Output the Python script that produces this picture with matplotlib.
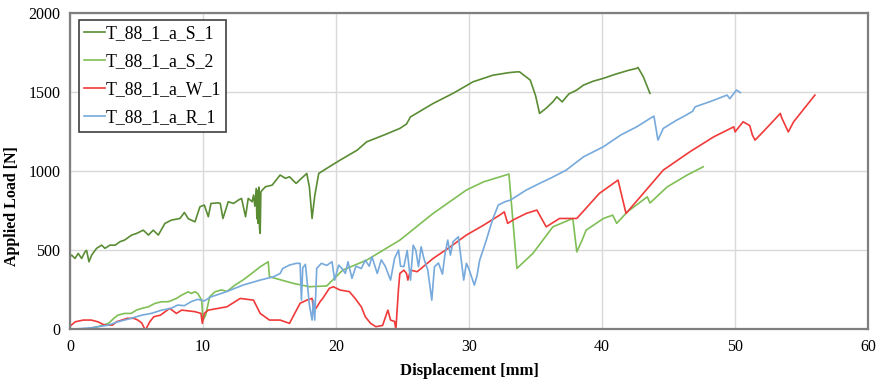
import matplotlib.pyplot as plt

# --- data (displacement mm, load N) ---
s1_x = [0, 0.13, 0.38, 0.62, 0.88, 1.13, 1.25, 1.43, 1.63, 2.0, 2.38, 2.63, 3.0, 3.4, 3.76, 4.1,
        4.64, 5.0, 5.51, 5.9, 6.26, 6.64, 7.14, 7.64, 8.27, 8.6, 8.9, 9.4, 9.77, 10.1, 10.4, 10.6,
        11.15, 11.3, 11.5, 11.9, 12.3, 12.65, 12.9, 13.2, 13.4, 13.7, 13.8, 13.9, 14.0, 14.05,
        14.1, 14.15, 14.2, 14.25, 14.3, 14.35, 14.46, 14.7, 15.2, 15.8, 16.2, 16.5, 17.0, 17.8,
        18.0, 18.2, 18.4, 18.7, 19.3, 20.3, 21.6, 22.3, 23.6, 24.8, 25.3, 25.6, 27.3, 28.8, 30.3,
        31.8, 33.0, 33.6, 33.8, 34.6, 35.0, 35.3, 35.8, 36.3, 36.6, 37.0, 37.5, 38.1, 38.6, 39.3,
        40.1, 41.0, 42.0, 42.6, 42.7, 43.1, 43.6]
s1_y = [460, 470, 449, 481, 449, 491, 500, 428, 470, 513, 533, 513, 533, 533, 555, 565,
        597, 607, 628, 597, 628, 597, 671, 692, 702, 740, 700, 681, 776, 787, 713, 797,
        801, 797, 702, 808, 797, 818, 829, 713, 829, 808, 850, 780, 892, 700,
        880, 671, 900, 640, 608, 870, 882, 903, 913, 977, 956, 966, 924, 987,
        900, 702, 845, 987, 1019, 1071, 1135, 1187, 1230, 1272, 1300, 1345, 1430, 1494, 1567,
        1609, 1625, 1630, 1630, 1578, 1480, 1367, 1400, 1440, 1472, 1440, 1490, 1515, 1546, 1570,
        1589, 1615, 1640, 1652, 1658, 1599, 1494]

s2_x = [0, 1.3, 2.1, 2.9, 3.3, 3.6, 4.1, 4.6, 5.0, 5.4, 5.9, 6.4, 6.9, 7.4, 8.0, 8.4, 8.9, 9.1,
        9.4, 9.6, 9.9, 10.0, 10.2, 10.5, 10.9, 11.4, 11.8, 12.4, 13.0, 13.6, 14.3, 14.9, 15.0,
        16.8, 18.0, 19.3, 20.0, 20.5, 22.3, 24.8, 27.3, 29.8, 31.1, 33.0, 33.6, 34.8, 36.3, 37.8,
        38.1, 38.5, 38.8, 40.1, 40.8, 41.1, 41.9, 43.1, 43.4, 43.6, 44.9, 46.4, 47.6]
s2_y = [0, 3, 17, 38, 70, 90, 101, 101, 122, 133, 143, 165, 175, 175, 196, 217, 238, 228,
        238, 228, 185, 59, 90, 206, 238, 250, 240, 280, 312, 350, 396, 428, 333,
        291, 270, 275, 333, 375, 438, 565, 734, 882, 934, 983, 386, 481, 649, 702,
        491, 565, 628, 702, 723, 671, 744, 820, 839, 800, 902, 977, 1029]

w1_x = [0, 0.1, 0.4, 1.0, 1.6, 2.1, 2.6, 3.2, 3.5, 4.3, 4.8, 5.1, 5.4, 5.6, 5.7, 6.0, 6.3, 6.8,
        7.5, 8.0, 8.4, 9.4, 9.85, 9.95, 10.1, 10.4, 11.15, 11.8, 12.8, 13.8, 14.3, 15.0, 15.8,
        16.5, 17.3, 17.8, 18.2, 18.3, 18.5, 18.8, 19.0, 19.5, 19.8, 20.3, 21.0, 21.4, 21.9,
        22.2, 22.6, 23.0, 23.5, 23.9, 24.1, 24.4, 24.5, 24.7, 24.8, 25.1, 25.3, 25.4, 25.6,
        26.1, 27.3, 28.6, 29.8, 31.1, 32.3, 32.65, 32.9, 33.3, 34.3, 35.1, 35.8, 36.8, 38.1,
        39.8, 41.2, 41.8, 43.1, 44.6, 46.6, 48.4, 49.9, 50.0, 50.6, 51.1, 51.3, 51.5, 52.1,
        53.4, 53.5, 54.0, 54.4, 56.0]
w1_y = [20, 27, 48, 59, 59, 48, 27, 27, 48, 70, 70, 59, 40, 6, 0, 48, 80, 90,
        133, 101, 122, 112, 101, 38, 101, 122, 133, 143, 196, 185, 101, 59, 59,
        38, 165, 185, 196, 133, 133, 175, 196, 260, 270, 249, 239, 200, 143,
        80, 38, 17, 25, 122, 59, 50, 0, 260, 354, 375, 354, 312, 375,
        365, 449, 523, 597, 660, 723, 744, 671, 692, 734, 755, 649, 702, 702,
        861, 945, 734, 861, 1008, 1124, 1219, 1282, 1250, 1314, 1290, 1230, 1198, 1250,
        1367, 1340, 1250, 1314, 1483]

r1_x = [0, 1.6, 2.9, 3.6, 4.6, 5.4, 6.1, 6.9, 7.6, 8.1, 8.6, 9.1, 9.6, 10.1, 10.6, 11.4, 11.8,
        13.0, 14.3, 15.3, 15.8, 16.0, 16.5, 17.0, 17.3, 17.4, 17.5, 17.7, 18.0, 18.2, 18.3,
        18.4, 18.55, 18.9, 19.3, 19.7, 19.9, 20.2, 20.5, 20.7, 20.9, 21.2, 21.5, 21.9, 22.2,
        22.5, 22.7, 23.1, 23.4, 23.7, 24.1, 24.4, 24.7, 24.85, 25.1, 25.35, 25.6, 25.8, 26.0,
        26.2, 26.4, 26.6, 26.9, 27.2, 27.4, 27.7, 28.0, 28.2, 28.4, 28.6, 28.8, 29.2, 29.6,
        29.8, 30.0, 30.4, 30.6, 30.8, 31.3, 31.6, 31.8, 32.2, 32.7, 33.1, 34.3, 35.3, 36.2,
        37.3, 38.6, 40.1, 41.4, 42.6, 43.6, 43.9, 44.2, 44.6, 45.6, 46.1, 46.8, 47.0, 48.1,
        49.4, 49.6, 50.1, 50.4]
r1_y = [0, 10, 27, 48, 70, 90, 101, 122, 133, 154, 150, 175, 190, 180, 206, 228, 240,
        280, 312, 333, 354, 386, 407, 418, 418, 185, 390, 412, 154, 59, 185,
        59, 386, 418, 405, 428, 312, 407, 380, 354, 428, 323, 400, 385, 438,
        400, 460, 354, 440, 400, 312, 449, 502, 400, 397, 500, 312, 533, 500,
        397, 523, 450, 375, 185, 397, 420, 350, 480, 565, 470, 555, 586, 312,
        418, 380, 280, 340, 438, 565, 649, 702, 787, 808, 818, 882, 924, 960,
        1008, 1092, 1156, 1230, 1282, 1335, 1350, 1198, 1272, 1324, 1346, 1380, 1409, 1441,
        1483, 1460, 1515, 1499]

labels = ['T_88_1_a_S_1', 'T_88_1_a_S_2', 'T_88_1_a_W_1', 'T_88_1_a_R_1']
colors = ['#5a8c34', '#7fbf55', '#f03a3a', '#76a9dc']

serif = ['Liberation Serif', 'DejaVu Serif']

fig = plt.figure(figsize=(8.8, 3.83), dpi=100)
ax = fig.add_axes([0.0795, 0.140, 0.907, 0.825])

series = [(s1_x, s1_y), (s2_x, s2_y), (w1_x, w1_y), (r1_x, r1_y)]
for (xs, ys), lab, col in zip(series, labels, colors):
    ax.plot(xs, ys, color=col, lw=1.2, label=lab)

ax.set_xlim(0, 60)
ax.set_ylim(0, 2000)
ax.set_xticks(range(0, 61, 10))
ax.set_yticks(range(0, 2001, 500))
ax.grid(True, color='#d9d9d9', lw=1)
ax.set_axisbelow(True)
ax.tick_params(length=0, pad=7, labelsize=11.5)
for lbl in ax.get_xticklabels() + ax.get_yticklabels():
    lbl.set_family(serif)
for sp in ax.spines.values():
    sp.set_color('#7f7f7f')
    sp.set_linewidth(1.6)

ax.set_xlabel('Displacement [mm]', family=serif, fontweight='bold', fontsize=12)
ax.xaxis.set_label_coords(0.5, -0.106)
ax.set_ylabel('Applied Load [N]', family=serif, fontweight='bold', fontsize=11.5)
ax.yaxis.set_label_coords(-0.062, 0.39)

leg = ax.legend(loc='upper left', bbox_to_anchor=(0.011, 0.979), borderaxespad=0,
                prop={'family': serif, 'size': 12.8},
                handlelength=1.15, handletextpad=0.05, labelspacing=0.62, borderpad=0.3,
                fancybox=False, framealpha=1)
leg.get_frame().set_edgecolor('#404040')
leg.get_frame().set_linewidth(1.2)

fig.savefig('out.png', dpi=100)
